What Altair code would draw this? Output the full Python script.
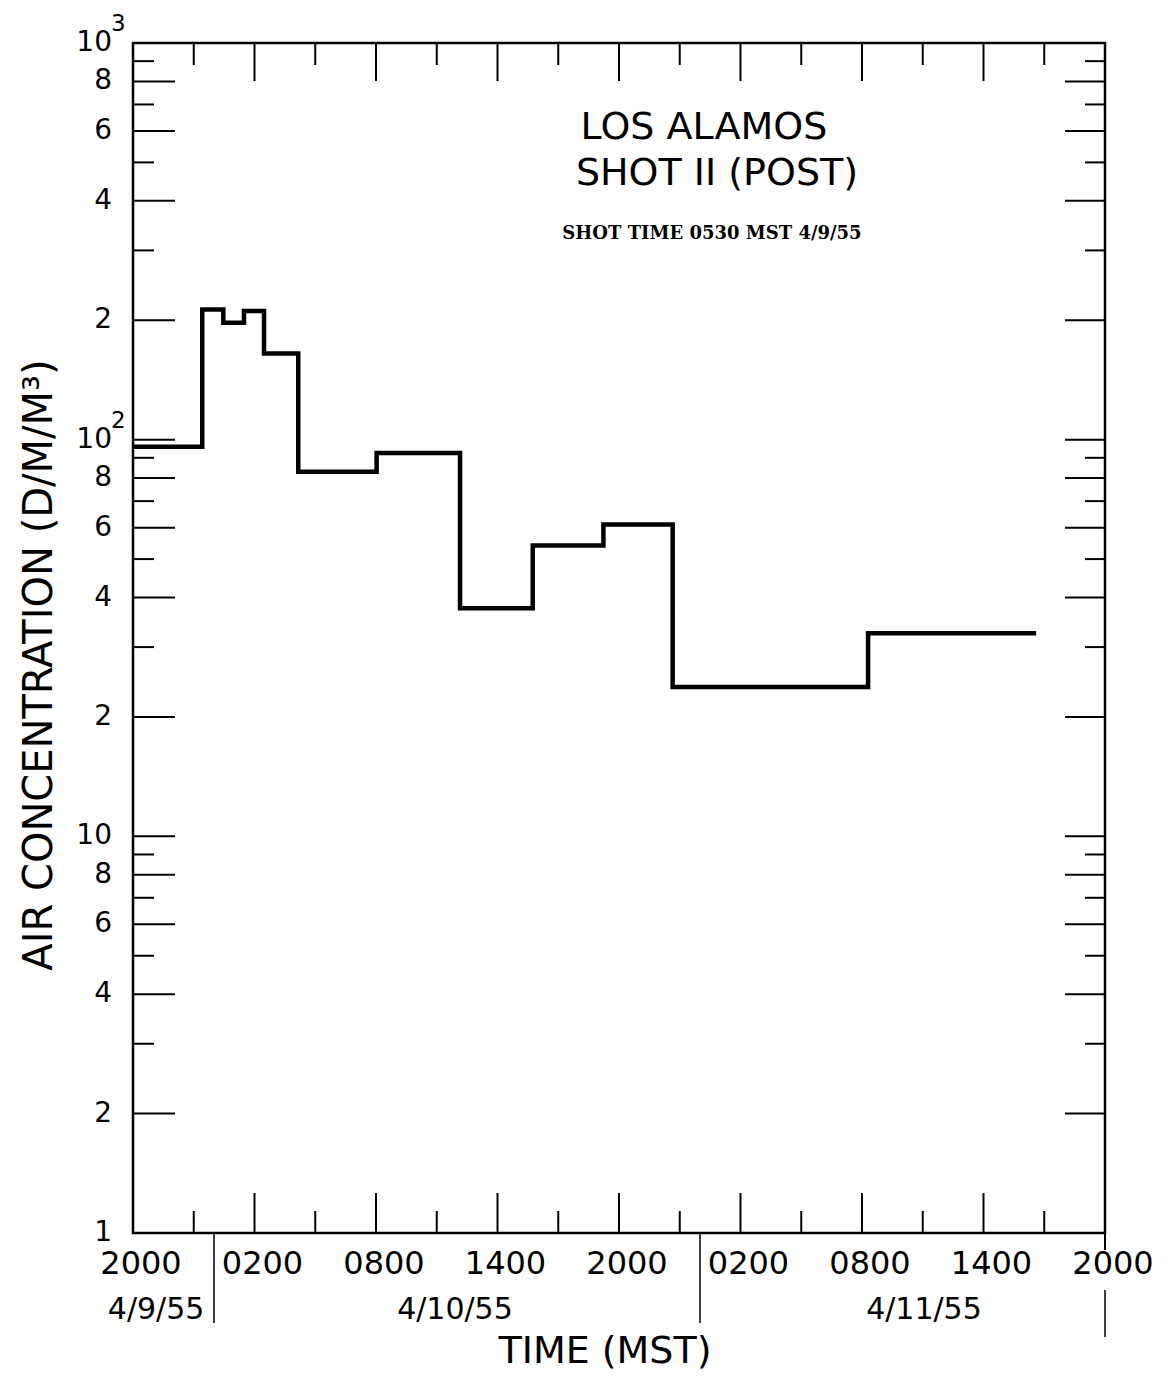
import altair as alt
import pandas as pd

# ---- data (hours after 2000 MST 4/9/55, concentration d/m/m^3) ----
hours = [0, 3.42, 4.46, 5.48, 6.47, 8.16, 12.03, 16.15, 19.74, 23.23, 26.65, 36.3, 44.6]
conc = [96, 213, 197, 211, 165, 83, 92.5, 37.6, 54.1, 61.1, 23.8, 32.5, 32.5]

x_tick_hours = [0, 6, 12, 18, 24, 30, 36, 42, 48]
x_tick_labels = ["2000", "0200", "0800", "1400", "2000", "0200", "0800", "1400", "2000"]
x_minor_hours = [3, 9, 15, 21, 27, 33, 39, 45]
x_major_inner = [6, 12, 18, 24, 30, 36, 42]

y_label_vals = [1, 2, 4, 6, 8, 10, 20, 40, 60, 80, 100, 200, 400, 600, 800, 1000]
y_label_text = ["1", "2", "4", "6", "8", "10", "2", "4", "6", "8", "10", "2", "4", "6", "8", "10"]
y_major = [2, 4, 6, 8, 10, 20, 40, 60, 80, 100, 200, 400, 600, 800]
y_minor = [3, 5, 7, 9, 30, 50, 70, 90, 300, 500, 700, 900]
y_sup_vals = [1000, 100]
y_sup_text = ["3", "2"]

date_hours = [1.14, 15.9, 39.06]
date_labels = ["4/9/55", "4/10/55", "4/11/55"]
midnight_hours = [4, 28]
end_hours = [48]

W, H = 972, 1190
FONT = "DejaVu Sans"

line_df = pd.DataFrame({"h": hours, "c": conc})
ymaj_df = pd.DataFrame({"c": y_major})
ymin_df = pd.DataFrame({"c": y_minor})
xmaj_df = pd.DataFrame({"h": x_major_inner})
xmin_df = pd.DataFrame({"h": x_minor_hours})
ylab_df = pd.DataFrame({"c": y_label_vals, "t": y_label_text})
xlab_df = pd.DataFrame({"h": x_tick_hours, "t": x_tick_labels})
sup_df = pd.DataFrame({"c": y_sup_vals, "t": y_sup_text})
date_df = pd.DataFrame({"h": date_hours, "t": date_labels})
mid_df = pd.DataFrame({"h": midnight_hours})
end_df = pd.DataFrame({"h": end_hours})

xscale = alt.Scale(domain=[0, 48], nice=False, zero=False)
yscale = alt.Scale(type="log", domain=[1, 1000], nice=False)

X = lambda f: alt.X(f, scale=xscale, axis=None, title=None)
Y = lambda f: alt.Y(f, scale=yscale, axis=None, title=None)

line = alt.Chart(line_df).mark_line(
    interpolate="step-after", color="black", strokeWidth=4.5, strokeJoin="miter"
).encode(x=X("h:Q"), y=Y("c:Q"))

rule_style = dict(color="black", strokeWidth=2)
layers = [line]
# y ticks left and right (inward)
layers.append(alt.Chart(ymaj_df).mark_rule(**rule_style).encode(y=Y("c:Q"), x=alt.value(0), x2=alt.value(42)))
layers.append(alt.Chart(ymin_df).mark_rule(**rule_style).encode(y=Y("c:Q"), x=alt.value(0), x2=alt.value(21)))
layers.append(alt.Chart(ymaj_df).mark_rule(**rule_style).encode(y=Y("c:Q"), x=alt.value(W), x2=alt.value(W - 40)))
layers.append(alt.Chart(ymin_df).mark_rule(**rule_style).encode(y=Y("c:Q"), x=alt.value(W), x2=alt.value(W - 20)))
# x ticks top and bottom (inward)
layers.append(alt.Chart(xmaj_df).mark_rule(**rule_style).encode(x=X("h:Q"), y=alt.value(0), y2=alt.value(38)))
layers.append(alt.Chart(xmin_df).mark_rule(**rule_style).encode(x=X("h:Q"), y=alt.value(0), y2=alt.value(22)))
layers.append(alt.Chart(xmaj_df).mark_rule(**rule_style).encode(x=X("h:Q"), y=alt.value(H), y2=alt.value(H - 40)))
layers.append(alt.Chart(xmin_df).mark_rule(**rule_style).encode(x=X("h:Q"), y=alt.value(H), y2=alt.value(H - 22)))
# date dividers
layers.append(alt.Chart(mid_df).mark_rule(color="black", strokeWidth=1.5).encode(x=X("h:Q"), y=alt.value(H), y2=alt.value(H + 90)))
layers.append(alt.Chart(end_df).mark_rule(color="black", strokeWidth=2).encode(x=X("h:Q"), y=alt.value(H), y2=alt.value(H + 17)))
layers.append(alt.Chart(end_df).mark_rule(color="black", strokeWidth=1.5).encode(x=X("h:Q"), y=alt.value(H + 57), y2=alt.value(H + 104)))
# tick labels
layers.append(alt.Chart(ylab_df).mark_text(font=FONT, fontSize=28, align="right", baseline="middle", color="black").encode(
    y=Y("c:Q"), x=alt.value(-21), text="t:N"))
layers.append(alt.Chart(xlab_df).mark_text(font=FONT, fontSize=32, align="center", baseline="middle", dx=8, color="black").encode(
    x=X("h:Q"), y=alt.value(H + 31), text="t:N"))
# exponents
layers.append(alt.Chart(sup_df).mark_text(font=FONT, fontSize=23, align="left", baseline="middle", dy=-19, color="black").encode(
    y=Y("c:Q"), x=alt.value(-22), text="t:N"))
# date labels
layers.append(alt.Chart(date_df).mark_text(font=FONT, fontSize=30, align="center", baseline="middle", color="black").encode(
    x=X("h:Q"), y=alt.value(H + 77), text="t:N"))

# titles / annotations
ann = pd.DataFrame({"t": ["TIME (MST)"]})
layers.append(alt.Chart(ann).mark_text(font=FONT, fontSize=38, align="center", baseline="middle", color="black").encode(
    x=alt.value(472), y=alt.value(H + 119), text="t:N"))
ytitle = pd.DataFrame({"t": ["AIR CONCENTRATION (D/M/M³)"]})
layers.append(alt.Chart(ytitle).mark_text(font=FONT, fontSize=40, align="center", baseline="middle", angle=270, color="black").encode(
    x=alt.value(-93), y=alt.value(622), text="t:N"))
t1 = pd.DataFrame({"t": ["LOS ALAMOS"]})
layers.append(alt.Chart(t1).mark_text(font=FONT, fontSize=38, align="center", baseline="middle", color="black").encode(
    x=alt.value(571), y=alt.value(85), text="t:N"))
t2 = pd.DataFrame({"t": ["SHOT II (POST)"]})
layers.append(alt.Chart(t2).mark_text(font=FONT, fontSize=38, align="center", baseline="middle", color="black").encode(
    x=alt.value(584), y=alt.value(131), text="t:N"))
t3 = pd.DataFrame({"t": ["SHOT TIME 0530 MST 4/9/55"]})
layers.append(alt.Chart(t3).mark_text(font="DejaVu Serif", fontWeight="bold", fontSize=18, align="center", baseline="middle", color="black").encode(
    x=alt.value(579), y=alt.value(191), text="t:N"))

chart = alt.layer(*layers).properties(
    width=W, height=H,
    autosize=alt.AutoSizeParams(type="none"),
    padding={"left": 133, "top": 43, "right": 67, "bottom": 143},
    background="white",
).configure_view(stroke="black", strokeWidth=2.5)

chart.save("out.html", embed_options={"renderer": "svg", "actions": False})
